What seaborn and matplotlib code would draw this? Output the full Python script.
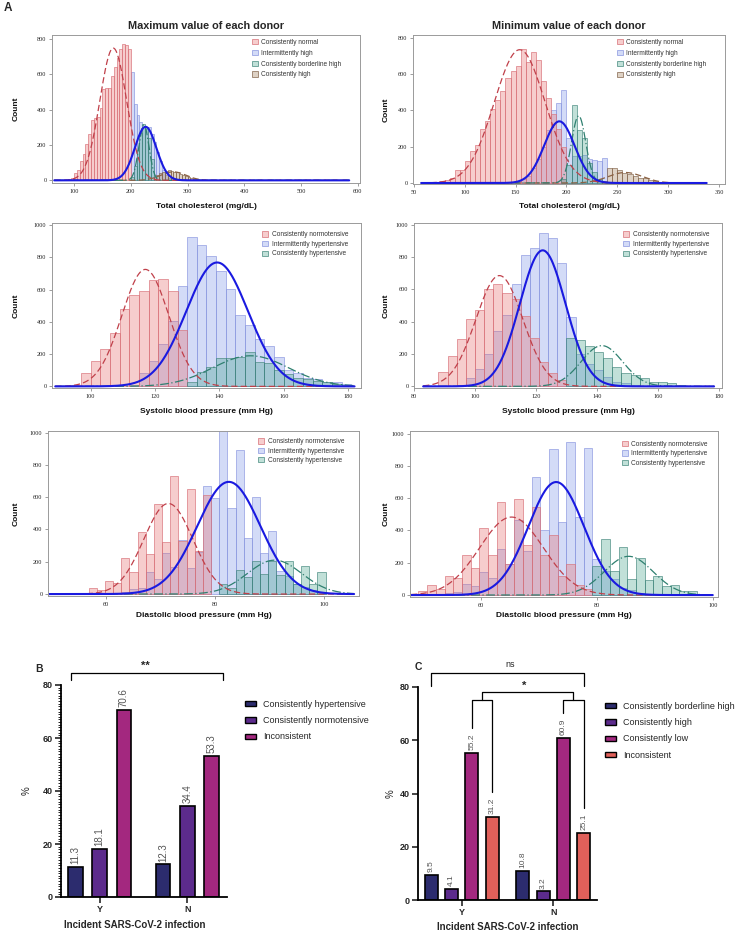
import numpy as np
import pandas as pd
import matplotlib
matplotlib.use("Agg")
import matplotlib.pyplot as plt
from matplotlib.patches import Patch
from matplotlib.ticker import MultipleLocator
import seaborn as sns

# ---------------- panel A: histogram counts, (first bin edge, counts per bin) ----------------
tc_labels = ["Consistently normal", "Intermittently high",
             "Consistently borderline high", "Consistently high"]
bp_labels = ["Consistently normotensive", "Intermittently hypertensive",
             "Consistently hypertensive"]

# maximum total cholesterol, 5 mg/dL bins
tc_max_normal = (90, [5, 15, 40, 60, 110, 150, 205, 260, 340, 350, 360, 410, 515,
                      520, 525, 590, 640, 690, 740, 770, 765, 740])
tc_max_inter = (200, [610, 430, 370, 330, 300, 290, 300, 260, 215, 160, 110, 60, 30, 12, 5])
tc_max_border = (200, [20, 80, 170, 270, 320, 300, 240, 120])
tc_max_high = (240, [20, 30, 40, 48, 55, 58, 55, 50, 45, 38, 30, 25, 18, 12, 8, 5, 3, 2, 1, 1])
tc_max_fits = [(169, 23.5, 748), (226, 19, 303), (223, 9, 314), (275, 22, 48)]  # mean, sd, peak

# minimum total cholesterol, 5 mg/dL bins
tc_min_normal = (65, [5, 8, 12, 18, 30, 70, 72, 120, 178, 210, 300, 340, 410, 460,
                      510, 580, 620, 645, 740, 665, 720, 680, 565, 470, 380, 300, 200])
tc_min_inter = (150, [10, 20, 40, 80, 130, 200, 290, 400, 440, 515, 250, 150, 150,
                      155, 130, 125, 120, 138])
tc_min_border = (195, [20, 100, 430, 290, 250, 110, 60, 20])
tc_min_high = (235, [10, 80, 80, 70, 55, 50, 40, 30, 25, 15, 10, 8, 5, 3])
tc_min_fits = [(154, 25, 735), (193, 15, 340), (212, 7, 370), (258, 17, 58)]

# maximum systolic BP, 3 mm Hg bins
sbp_max_normo = (94, [10, 82, 155, 230, 330, 480, 565, 590, 660, 665, 590, 350])
sbp_max_inter = (112, [10, 85, 160, 260, 405, 620, 930, 875, 810, 715, 605, 440, 380,
                       295, 250, 185, 100, 80, 55, 45, 30, 25, 15])
sbp_max_hyper = (130, [30, 90, 120, 175, 175, 180, 215, 150, 145, 100, 75, 55, 45, 35, 25, 15, 10])
sbp_max_fits = [(117, 7.3, 726), (139.3, 9.6, 769), (149.7, 11.8, 190)]

# minimum systolic BP, 3 mm Hg bins
sbp_min_normo = (88, [90, 190, 293, 415, 472, 605, 632, 575, 540, 435, 300, 150, 85, 40])
sbp_min_inter = (94, [10, 50, 105, 200, 340, 440, 630, 815, 855, 950, 920, 760, 430,
                      200, 140, 100, 60, 30, 20, 10, 5])
sbp_min_hyper = (130, [300, 285, 250, 215, 175, 120, 80, 70, 50, 30, 25, 20, 10, 5])
sbp_min_fits = [(108, 7.7, 685), (122.2, 7.5, 841), (141.6, 6.8, 252)]

# maximum diastolic BP, 1.5 mm Hg bins
dbp_max_normo = (56.75, [35, 25, 80, 68, 225, 135, 385, 250, 560, 320, 730, 330, 650, 265, 615])
dbp_max_inter = (62.75, [15, 30, 40, 135, 95, 255, 165, 335, 160, 260, 670, 595, 1010,
                         535, 890, 350, 600, 255, 390, 140, 110, 65, 45, 25, 15])
dbp_max_hyper = (80.75, [60, 40, 150, 105, 205, 125, 205, 115, 205, 65, 175, 60, 135])
dbp_max_fits = [(71.4, 4.5, 561), (82.5, 5.8, 695), (90.9, 5.0, 210)]

# minimum diastolic BP, 1.5 mm Hg bins
dbp_min_normo = (49.25, [25, 60, 40, 115, 105, 250, 165, 415, 250, 575, 195, 595, 310,
                         545, 250, 375, 120, 195, 60, 40])
dbp_min_inter = (53.75, [10, 20, 70, 55, 140, 105, 285, 195, 465, 270, 730, 405, 905,
                         455, 945, 485, 910, 225, 150, 100, 45, 30, 10])
dbp_min_hyper = (79.25, [180, 345, 150, 300, 100, 230, 95, 120, 55, 60, 25, 25, 5])
dbp_min_fits = [(65.3, 5.5, 483), (73, 4.8, 700), (85.5, 4.2, 240)]

# ---------------- panels B and C: percentages ----------------
infection = ["Y", "N"]
bp_groups = ["Consistently hypertensive", "Consistently normotensive", "Inconsistent"]
bp_pct_y = [11.3, 18.1, 70.6]
bp_pct_n = [12.3, 34.4, 53.3]
tc_groups = ["Consistently borderline high", "Consistently high", "Consistently low", "Inconsistent"]
tc_pct_y = [9.5, 4.1, 55.2, 31.2]
tc_pct_n = [10.8, 3.2, 60.9, 25.1]

# ---------------- styles ----------------
FACE = {"red": (0.90, 0.40, 0.40, 0.32), "blue": (0.45, 0.55, 0.90, 0.31),
        "teal": (0.20, 0.60, 0.50, 0.30), "brown": (0.60, 0.45, 0.30, 0.32)}
EDGE = {"red": (0.85, 0.45, 0.48, 0.85), "blue": (0.55, 0.60, 0.88, 0.85),
        "teal": (0.25, 0.52, 0.48, 0.8), "brown": (0.50, 0.38, 0.28, 0.8)}
LINE = {"red": ("#C0404A", (0, (5, 2.5)), 0.9), "blue": ("#1A1AE0", "-", 1.5),
        "teal": ("#2F8070", (0, (7, 2, 1, 2)), 0.9), "brown": ("#8B6244", (0, (5, 2.5)), 0.9)}
DRAW_ORDER = {"blue": 0, "red": 1, "teal": 2, "brown": 3}
BAR_COLORS = ["#2C2C6E", "#5C2B8C", "#A3287F", "#E0605A"]

sns.set_style("ticks")
plt.rcParams["font.family"] = ["Liberation Sans", "DejaVu Sans"]

W, H = 750, 935
fig = plt.figure(figsize=(W / 100, H / 100), dpi=100)


def px_axes(x0, y0, x1, y1):
    return fig.add_axes([x0 / W, 1 - y1 / H, (x1 - x0) / W, (y1 - y0) / H])


tc_keys = ["red", "blue", "teal", "brown"]
bp_keys = ["red", "blue", "teal"]

hist_panels = [
    dict(box=(52, 35, 360, 183), title="Maximum value of each donor",
         xlabel="Total cholesterol (mg/dL)", bw=5, labels=tc_labels, keys=tc_keys,
         data=[tc_max_normal, tc_max_inter, tc_max_border, tc_max_high], fits=tc_max_fits,
         curve_x=(65, 585), xlim=(61, 604), ylim=(-15, 822),
         xticks=range(100, 601, 100), yticks=range(0, 801, 200),
         ylab_x=-0.104, xlab_y=-0.135, leg=(0.94, 0.975), legsp=0.6),
    dict(box=(413, 35, 725, 184), title="Minimum value of each donor",
         xlabel="Total cholesterol (mg/dL)", bw=5, labels=tc_labels, keys=tc_keys,
         data=[tc_min_normal, tc_min_inter, tc_min_border, tc_min_high], fits=tc_min_fits,
         curve_x=(57, 338), xlim=(49, 356), ylim=(-5.5, 816),
         xticks=range(50, 351, 50), yticks=range(0, 801, 200),
         ylab_x=-0.074, xlab_y=-0.128, leg=(0.94, 0.975), legsp=0.6),
    dict(box=(52, 223, 361, 388), title=None,
         xlabel="Systolic blood pressure (mm Hg)", bw=3, labels=bp_labels, keys=bp_keys,
         data=[sbp_max_normo, sbp_max_inter, sbp_max_hyper], fits=sbp_max_fits,
         curve_x=(89, 182), xlim=(88, 184), ylim=(-10, 1014),
         xticks=range(100, 181, 20), yticks=range(0, 1001, 200),
         ylab_x=-0.104, xlab_y=-0.121, leg=(0.958, 0.95), legsp=0.4),
    dict(box=(414, 223, 722, 388), title=None,
         xlabel="Systolic blood pressure (mm Hg)", bw=3, labels=bp_labels, keys=bp_keys,
         data=[sbp_min_normo, sbp_min_inter, sbp_min_hyper], fits=sbp_min_fits,
         curve_x=(83, 178.4), xlim=(80, 181), ylim=(-10, 1010),
         xticks=range(80, 181, 20), yticks=range(0, 1001, 200),
         ylab_x=-0.078, xlab_y=-0.121, leg=(0.958, 0.95), legsp=0.4),
    dict(box=(48, 431, 359, 596), title=None,
         xlabel="Diastolic blood pressure (mm Hg)", bw=1.5, labels=bp_labels, keys=bp_keys,
         data=[dbp_max_normo, dbp_max_inter, dbp_max_hyper], fits=dbp_max_fits,
         curve_x=(49.5, 105.5), xlim=(49.3, 106.4), ylim=(-12, 1010),
         xticks=[60, 80, 100], yticks=range(0, 1001, 200),
         ylab_x=-0.09, xlab_y=-0.097, leg=(0.952, 0.955), legsp=0.35),
    dict(box=(410, 431, 718, 597), title=None,
         xlabel="Diastolic blood pressure (mm Hg)", bw=1.5, labels=bp_labels, keys=bp_keys,
         data=[dbp_min_normo, dbp_min_inter, dbp_min_hyper], fits=dbp_min_fits,
         curve_x=(48, 100), xlim=(47.8, 100.9), ylim=(-12, 1016),
         xticks=[60, 80, 100], yticks=range(0, 1001, 200),
         ylab_x=-0.065, xlab_y=-0.09, leg=(0.967, 0.94), legsp=0.35),
]

for p in hist_panels:
    ax = px_axes(*p["box"])
    series = list(zip(p["labels"], p["keys"], p["data"], p["fits"]))
    for label, key, (start, counts), _ in sorted(series, key=lambda s: DRAW_ORDER[s[1]]):
        edges = start + p["bw"] * np.arange(len(counts) + 1)
        # one value per observation, at the middle of its bin
        values = np.repeat(edges[:-1] + p["bw"] / 2, counts)
        sns.histplot(x=values, bins=list(edges), ax=ax,
                     facecolor=FACE[key], edgecolor=EDGE[key], linewidth=0.55)
    grid = np.linspace(*p["curve_x"], 400)
    for label, key, _, (mu, sd, peak) in sorted(series, key=lambda s: -DRAW_ORDER[s[1]]):
        color, ls, lw = LINE[key]
        sns.lineplot(x=grid, y=peak * np.exp(-0.5 * ((grid - mu) / sd) ** 2), ax=ax,
                     color=color, linestyle=ls, linewidth=lw, estimator=None)

    handles = [Patch(facecolor=FACE[k], edgecolor=EDGE[k], linewidth=0.6) for k in p["keys"]]
    leg = ax.legend(handles, p["labels"], loc="upper right", bbox_to_anchor=p["leg"],
                    frameon=False, fontsize=4.7, handlelength=0.9, handleheight=0.9,
                    handletextpad=0.5, labelspacing=p["legsp"], borderpad=0, borderaxespad=0)
    for t in leg.get_texts():
        t.set_color("#333333")

    ax.set_xlim(p["xlim"])
    ax.set_ylim(p["ylim"])
    ax.set_xticks(list(p["xticks"]))
    ax.set_yticks(list(p["yticks"]))
    ax.tick_params(direction="out", length=2.5, width=0.5, color="#777777", labelsize=4.5,
                   pad=1.5, labelcolor="#222222", labelfontfamily="Liberation Serif")
    for s in ax.spines.values():
        s.set_visible(True)
        s.set_color("#9a9a9a")
        s.set_linewidth(0.7)
    ax.set_ylabel("Count", fontsize=6, fontweight="bold", color="#111111")
    ax.yaxis.set_label_coords(p["ylab_x"], 0.5)
    ax.set_xlabel(p["xlabel"], fontsize=6, fontweight="bold", color="#111111")
    ax.xaxis.set_label_coords(0.5, p["xlab_y"])
    if p["title"]:
        ax.set_title(p["title"], fontsize=7.8, fontweight="bold", pad=4)


# ---------------- panels B and C ----------------
def bar_panel(ax, groups, pct_y, pct_n, width, gap, fs):
    df = pd.DataFrame({"infection": ["Y"] * len(groups) + ["N"] * len(groups),
                       "group": groups * 2, "pct": pct_y + pct_n})
    sns.barplot(data=df, x="infection", y="pct", hue="group", order=infection,
                hue_order=groups, palette=BAR_COLORS[:len(groups)], saturation=1,
                width=width, gap=gap, edgecolor="black", linewidth=1.2,
                errorbar=None, legend=False, ax=ax)
    for c in ax.containers:
        ax.bar_label(c, fmt="%.1f", rotation=90, padding=2, fontsize=fs, color="#555555")
    sns.despine(ax=ax)
    for side in ("left", "bottom"):
        ax.spines[side].set_linewidth(1.3)
        ax.spines[side].set_color("black")
    ax.set_ylim(0, 80)
    ax.set_yticks(range(0, 81, 20))
    ax.tick_params(axis="both", which="major", length=4, width=1.2, labelsize=6.5, pad=2)
    for lbl in ax.get_xticklabels() + ax.get_yticklabels():
        lbl.set_fontweight("bold")
    ax.set_xlabel("Incident SARS-CoV-2 infection", fontsize=7, fontweight="bold")
    ax.set_ylabel("%", fontsize=7)
    handles = [Patch(facecolor=BAR_COLORS[i], edgecolor="black", linewidth=1.0)
               for i in range(len(groups))]
    return handles


def bar_center(ax, hue_idx, cat_idx):
    r = ax.containers[hue_idx][cat_idx]
    return r.get_x() + r.get_width() / 2


line_kw = dict(color="black", lw=0.9, clip_on=False)

# B
axb = px_axes(61, 685, 227, 897)
hb = bar_panel(axb, bp_groups, bp_pct_y, bp_pct_n, 0.83, 0.4, 7)
axb.set_xlim(-0.44, 1.45)
axb.yaxis.set_minor_locator(MultipleLocator(1))
axb.tick_params(axis="y", which="minor", length=2.2, width=0.7)
axb.xaxis.set_label_coords(0.446, -0.108)
axb.yaxis.set_label_coords(-0.175, 0.5)
axb.plot([-0.33, -0.33, 1.41, 1.41], [81.9, 84.5, 84.5, 81.9], **line_kw)
axb.text(0.52, 87.2, "**", ha="center", va="center", fontsize=8, fontweight="bold")
axb.legend(hb, bp_groups, loc="upper left", bbox_to_anchor=(245 / W, 1 - 700 / H),
           bbox_transform=fig.transFigure, frameon=False, fontsize=6.5,
           handlelength=1.2, handleheight=0.5, handletextpad=0.8, labelspacing=0.8,
           borderpad=0, borderaxespad=0)

# C
axc = px_axes(418, 687, 597, 900)
hc = bar_panel(axc, tc_groups, tc_pct_y, tc_pct_n, 0.89, 0.36, 6)
axc.set_xlim(-0.48, 1.48)
axc.xaxis.set_label_coords(0.503, -0.103)
axc.yaxis.set_label_coords(-0.123, 0.5)
axc.plot([bar_center(axc, 0, 0)] * 2 + [bar_center(axc, 3, 1)] * 2,
         [80.5, 85.3, 85.3, 80.5], **line_kw)
axc.text(0.53, 88.3, "ns", ha="center", va="center", fontsize=6.5)
mids = []
for cat, pcts in ((0, tc_pct_y), (1, tc_pct_n)):
    xl, xr = bar_center(axc, 2, cat), bar_center(axc, 3, cat)
    axc.plot([xl, xl, xr, xr], [pcts[2] + 9.3, 75, 75, pcts[3] + 9.3], **line_kw)
    mids.append((xl + xr) / 2)
axc.plot([mids[0], mids[0], mids[1], mids[1]], [75, 78, 78, 75], **line_kw)
axc.text(0.68, 80.3, "*", ha="center", va="center", fontsize=8, fontweight="bold")
axc.legend(hc, tc_groups, loc="upper left", bbox_to_anchor=(605 / W, 1 - 702 / H),
           bbox_transform=fig.transFigure, frameon=False, fontsize=6.5,
           handlelength=1.2, handleheight=0.5, handletextpad=0.8, labelspacing=0.8,
           borderpad=0, borderaxespad=0)

# panel letters
fig.text(8 / W, 1 - 8 / H, "A", fontsize=8.5, fontweight="bold", ha="center", va="center")
fig.text(39 / W, 1 - 669 / H, "B", fontsize=7.5, fontweight="bold", ha="center", va="center")
fig.text(418 / W, 1 - 667 / H, "C", fontsize=7.5, fontweight="bold", ha="center", va="center")

fig.savefig("out.png", dpi=100)
